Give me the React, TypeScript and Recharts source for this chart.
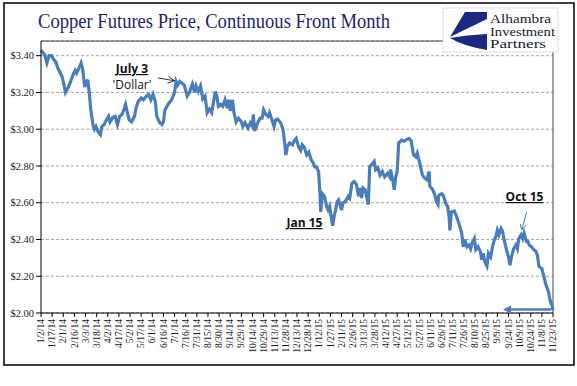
import React from "react";
import {
  LineChart,
  Line,
  XAxis,
  YAxis,
  CartesianGrid,
  ReferenceLine,
} from "recharts";

// x tick labels (Excel date axis, 15-day major unit)
const xTickLabels = [
  "1/2/14", "1/17/14", "2/1/14", "2/16/14", "3/3/14", "3/18/14", "4/2/14", "4/17/14",
  "5/2/14", "5/17/14", "6/1/14", "6/16/14", "7/1/14", "7/16/14", "7/31/14", "8/15/14",
  "8/30/14", "9/14/14", "9/29/14", "10/14/14", "10/29/14", "11/13/14", "11/28/14",
  "12/13/14", "12/28/14", "1/12/15", "1/27/15", "2/11/15", "2/26/15", "3/13/15",
  "3/28/15", "4/12/15", "4/27/15", "5/12/15", "5/27/15", "6/11/15", "6/26/15",
  "7/11/15", "7/26/15", "8/10/15", "8/25/15", "9/9/15", "9/24/15", "10/9/15",
  "10/24/15", "11/8/15", "11/23/15",
];

const yTicks = [2.0, 2.2, 2.4, 2.6, 2.8, 3.0, 3.2, 3.4];

// days since 1/2/14
const days = [
  0, 5, 8, 11, 14, 17, 20, 23, 28, 30, 33, 37, 40, 44, 46, 48, 52, 54, 56, 59,
  63, 65, 67, 70, 72, 74, 77, 80, 82, 85, 88, 91, 93, 97, 100, 103, 106, 109, 112, 114,
  117, 119, 122, 126, 128, 131, 135, 138, 142, 145, 148, 151, 154, 156, 160, 163, 165, 167, 172, 176,
  180, 182, 184, 187, 190, 193, 197, 200, 204, 207, 209, 212, 215, 218, 221, 224, 227, 230, 233, 235,
  237, 239, 242, 245, 248, 251, 253, 255, 258, 260, 263, 266, 270, 272, 275, 279, 282, 285, 286, 288,
  291, 295, 298, 300, 303, 306, 308, 312, 314, 316, 319, 323, 326, 328, 330, 332, 335, 339, 341, 344,
  347, 350, 352, 355, 358, 361, 364, 367, 369, 371, 374, 376, 377, 379, 382, 385, 387, 389, 391, 393,
  395, 397, 399, 401, 405, 407, 410, 414, 416, 419, 422, 425, 428, 430, 432, 434, 437, 441, 443, 447,
  449, 451, 454, 457, 460, 463, 467, 470, 471, 474, 476, 478, 480, 482, 486, 489, 493, 496, 499, 502,
  505, 507, 511, 514, 517, 520, 523, 524, 528, 531, 533, 535, 536, 540, 542, 546, 548, 550, 551, 553,
  557, 560, 563, 567, 569, 571, 574, 577, 579, 581, 584, 586, 589, 592, 594, 596, 598, 601, 603, 606,
  609, 611, 613, 615, 617, 620, 622, 624, 627, 630, 632, 634, 637, 640, 642, 644, 647, 649, 651, 654,
  656, 658, 661, 664, 667, 669, 671, 675, 677, 680, 684, 686, 689, 690,
];

const prices = [
  3.43, 3.405, 3.36, 3.4, 3.4, 3.38, 3.365, 3.33, 3.29, 3.26, 3.2, 3.23, 3.26, 3.305, 3.32, 3.305, 3.34, 3.36, 3.33, 3.23,
  3.27, 3.2, 3.11, 3.025, 3.0, 3.015, 2.985, 2.97, 3.015, 3.025, 3.05, 3.07, 3.04, 3.065, 3.07, 3.025, 3.07, 3.08, 3.11, 3.135,
  3.08, 3.05, 3.04, 3.07, 3.115, 3.15, 3.17, 3.16, 3.18, 3.19, 3.16, 3.19, 3.15, 3.07, 3.035, 3.025, 3.04, 3.105, 3.14, 3.16,
  3.2, 3.26, 3.24, 3.26, 3.25, 3.24, 3.18, 3.2, 3.245, 3.2, 3.235, 3.205, 3.235, 3.165, 3.18, 3.09, 3.11, 3.09, 3.16, 3.205,
  3.18, 3.125, 3.135, 3.125, 3.16, 3.115, 3.16, 3.1, 3.16, 3.09, 3.04, 3.06, 3.04, 3.015, 3.035, 3.005, 3.035, 3.015, 3.08, 2.99,
  3.025, 3.06, 3.06, 3.105, 3.08, 3.07, 3.09, 3.04, 3.015, 3.05, 3.055, 3.035, 3.0, 2.94, 2.86, 2.905, 2.925, 2.915, 2.935, 2.95,
  2.905, 2.885, 2.915, 2.9, 2.86, 2.875, 2.835, 2.815, 2.795, 2.795, 2.77, 2.65, 2.55, 2.65, 2.635, 2.58, 2.56, 2.58, 2.525, 2.475,
  2.525, 2.56, 2.605, 2.615, 2.56, 2.6, 2.605, 2.635, 2.625, 2.705, 2.715, 2.7, 2.635, 2.68, 2.625, 2.68, 2.67, 2.59, 2.795, 2.815,
  2.825, 2.78, 2.79, 2.75, 2.77, 2.74, 2.76, 2.74, 2.78, 2.725, 2.67, 2.74, 2.77, 2.925, 2.94, 2.935, 2.945, 2.95, 2.935, 2.86,
  2.85, 2.87, 2.805, 2.75, 2.735, 2.725, 2.77, 2.69, 2.67, 2.64, 2.605, 2.59, 2.64, 2.65, 2.64, 2.59, 2.58, 2.525, 2.45, 2.55,
  2.555, 2.525, 2.49, 2.435, 2.36, 2.4, 2.36, 2.37, 2.35, 2.38, 2.405, 2.345, 2.36, 2.335, 2.29, 2.325, 2.28, 2.255, 2.325, 2.305,
  2.37, 2.4, 2.415, 2.45, 2.425, 2.46, 2.445, 2.4, 2.35, 2.305, 2.26, 2.305, 2.35, 2.37, 2.35, 2.405, 2.425, 2.405, 2.435, 2.39,
  2.39, 2.37, 2.36, 2.345, 2.335, 2.315, 2.255, 2.24, 2.21, 2.16, 2.115, 2.07, 2.035, 2.015,
];

const BASE = Date.UTC(2014, 0, 2);
const toDay = (label: string) => {
  const [m, d, y] = label.split("/").map(Number);
  return Math.round((Date.UTC(2000 + y, m - 1, d) - BASE) / 86400000);
};
const tickDays = xTickLabels.map(toDay);
const labelByDay = new Map(tickDays.map((d, i) => [d, xTickLabels[i]]));
const lastDay = tickDays[tickDays.length - 1];

const data = days.map((day, i) => ({ day, price: prices[i] }));

const LINE = "#4A7EBB";

function DateTick({ x, y, payload }: any) {
  return (
    <g transform={`translate(${x},${y})`}>
      <text
        transform="rotate(-90)"
        x={0}
        y={0}
        dy="0.33em"
        textAnchor="end"
        fontFamily="Liberation Serif"
        fontSize={9.5}
        fill="#222"
      >
        {labelByDay.get(payload.value)}
      </text>
    </g>
  );
}

export default function App() {
  return (
    <div style={{ position: "absolute", left: 0, top: 0, width: 577, height: 386, background: "#fff" }}>
      <LineChart
        width={577}
        height={386}
        data={data}
        margin={{ top: 41, right: 24, bottom: 33, left: 6 }}
      >
        <CartesianGrid vertical={false} stroke="#a6a6a6" strokeDasharray="3 2" />
        <XAxis
          dataKey="day"
          type="number"
          domain={[0, lastDay]}
          ticks={tickDays}
          interval={0}
          height={40}
          tickSize={4}
          tickMargin={2}
          stroke="#000"
          tick={<DateTick />}
        />
        <YAxis
          type="number"
          domain={[2, 3.48]}
          ticks={yTicks}
          width={35}
          tickSize={5}
          tickMargin={2}
          stroke="#000"
          tickFormatter={(v: number) => "$" + v.toFixed(2)}
          tick={{ fontFamily: "Liberation Serif", fontSize: 10.5, fill: "#222" }}
        />
        <ReferenceLine x={lastDay} stroke="#444" strokeWidth={1} />
        <ReferenceLine y={3.48} stroke="#444" strokeWidth={1} />
        <Line
          type="linear"
          dataKey="price"
          stroke={LINE}
          strokeWidth={3.2}
          dot={false}
          isAnimationActive={false}
        />
      </LineChart>

      <svg
        width={577}
        height={386}
        style={{ position: "absolute", left: 0, top: 0, pointerEvents: "none" }}
      >
        {/* outer frame */}
        <rect x={4} y={3} width={570} height={362} fill="none" stroke="#000" strokeWidth={1.5} />

        {/* title */}
        <text
          x={38}
          y={28}
          fontFamily="Liberation Serif"
          fontSize={21}
          fill="#1F1F6E"
          textLength={352}
          lengthAdjust="spacingAndGlyphs"
        >
          Copper Futures Price, Continuous Front Month
        </text>

        {/* logo */}
        <rect x={443} y={8} width={115} height={44} fill="#fff" stroke="#ddd" strokeWidth={1} />
        <path d="M465,12 L487,12 L487,19 L450,37 Z" fill="#1B2A80" />
        <path d="M450,38 Q463,46 487,50 L487,34 Q466,35 450,38 Z" fill="#1B2A80" />
        <g fontFamily="Liberation Serif" fontSize={12.5} fill="#1a1a33">
          <text x={490} y={23} textLength={61} lengthAdjust="spacingAndGlyphs">Alhambra</text>
          <text x={490} y={35.5} textLength={65} lengthAdjust="spacingAndGlyphs">Investment</text>
          <text x={490} y={48} textLength={56} lengthAdjust="spacingAndGlyphs">Partners</text>
        </g>

        {/* annotations */}
        <g fontFamily="Open Sans" fontSize={12} fill="#111" textAnchor="middle">
          <text x={132} y={73} fontWeight="bold" textDecoration="underline">July 3</text>
          <text x={132} y={89}>'Dollar'</text>
          <text x={304.5} y={227} fontWeight="bold" textDecoration="underline">Jan 15</text>
          <text x={524.5} y={201} fontWeight="bold" textDecoration="underline">Oct 15</text>
        </g>
        <g stroke="#000" strokeWidth={0.8} fill="none">
          <line x1={158} y1={78} x2={174.5} y2={80.7} />
          <polyline points="168.5,76.5 174.5,80.7 167.5,83.2" />
        </g>
        <g stroke={LINE} strokeWidth={1} fill="none">
          <line x1={526.7} y1={211.7} x2={521.7} y2={230} />
          <polyline points="526,225.3 521.7,230 520.2,223.8" />
        </g>
        <line x1={551} y1={309.5} x2={510} y2={309.5} stroke={LINE} strokeWidth={2.5} />
        <polygon points="503,309.5 511,305.5 511,313.5" fill={LINE} />
      </svg>
    </div>
  );
}
